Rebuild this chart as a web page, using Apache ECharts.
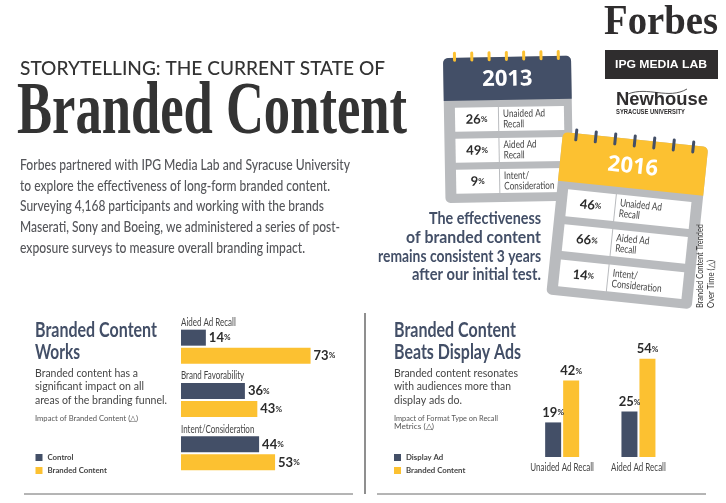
<!DOCTYPE html>
<html>
<head>
<meta charset="utf-8">
<script src="https://cdn.jsdelivr.net/npm/echarts@6/dist/echarts.min.js"></script>
<style>
html, body { margin: 0; padding: 0; background: #fff; }
#main { width: 726px; height: 503px; }
</style>
</head>
<body>
<div id="main"></div>
<script>
// bar chart data
const funnelCategories = ['Aided Ad Recall', 'Brand Favorability', 'Intent/Consideration'];
const funnelControl = [14, 36, 44];
const funnelBranded = [73, 43, 53];
const formatCategories = ['Unaided Ad Recall', 'Aided Ad Recall'];
const formatDisplay = [19, 25];
const formatBranded = [42, 54];

// calendar cards
const calendarMetrics = [['Unaided Ad', 'Recall'], ['Aided Ad', 'Recall'], ['Intent/', 'Consideration']];
const values2013 = [26, 49, 9];
const values2016 = [46, 66, 14];

const introLines = [
    'Forbes partnered with IPG Media Lab and Syracuse University',
    'to explore the effectiveness of long-form branded content.',
    'Surveying 4,168 participants and working with the brands',
    'Maserati, Sony and Boeing, we administered a series of post-',
    'exposure surveys to measure overall branding impact.',
];
const calloutLines = ['The effectiveness', 'of branded content', 'remains consistent 3 years', 'after our initial test.'];

const NAVY = '#434f67';
const YELLOW = '#fcc131';
const GREY = '#b9bbbe';
const SANS = 'Lato';
const SERIF = 'Liberation Serif';

const measureCtx = document.createElement('canvas').getContext('2d');

// text squeezed to a known width, the original faces are all condensed
function text(str, x, y, o) {
    const size = o.size;
    const weight = o.weight || 'normal';
    const family = o.family || SANS;
    measureCtx.font = weight + ' ' + size + 'px ' + family;
    const sx = o.width ? o.width / measureCtx.measureText(str).width : (o.squeeze || 1);
    return {
        type: 'text',
        x: x,
        y: y,
        scaleX: sx,
        rotation: o.rotation || 0,
        silent: true,
        style: {
            text: str,
            x: 0,
            y: 0,
            fontSize: size,
            fontFamily: family,
            fontWeight: weight,
            fill: o.color || '#333',
            align: o.align || 'left',
            verticalAlign: 'middle',
        },
    };
}

function rect(x, y, w, h, fill, r) {
    return { type: 'rect', silent: true, shape: { x: x, y: y, width: w, height: h, r: r || 0 }, style: { fill: fill } };
}

function rule(x1, y1, x2, y2, width) {
    return { type: 'line', silent: true, shape: { x1: x1, y1: y1, x2: x2, y2: y2 }, style: { stroke: '#6a6a6a', lineWidth: width || 1 } };
}

function calendar(cfg) {
    const kids = [
        rect(0, 0, cfg.w, cfg.h, GREY, 5),
        rect(0, 0, cfg.w, cfg.head, cfg.headColor, [5, 5, 0, 0]),
        text(cfg.year, cfg.w / 2, cfg.head / 2 + cfg.yearShift, { size: cfg.yearSize, weight: 'bold', family: 'Open Sans', color: '#fff', align: 'center' }),
    ];
    for (let i = 0; i < 7; i++) {
        kids.push(rect(cfg.ringX + i * cfg.ringStep, cfg.ringY, 3, cfg.ringH, cfg.ringColor, 1.5));
    }
    cfg.values.forEach((v, i) => {
        const top = cfg.rowTops[i];
        const mid = top + cfg.rowH / 2;
        kids.push(rect(cfg.rowX, top, cfg.split, cfg.rowH, '#fff'));
        kids.push(rect(cfg.rowX + cfg.split + 1, top, cfg.rowW - cfg.split - 1, cfg.rowH, '#fff'));
        kids.push({
            type: 'text',
            silent: true,
            x: cfg.rowX + cfg.split / 2,
            y: mid,
            style: {
                text: '{n|' + v + '}{p|%}',
                align: 'center',
                verticalAlign: 'middle',
                rich: {
                    n: { fontSize: 13, fontWeight: 'bold', fontFamily: SANS, fill: '#2b2b2b' },
                    p: { fontSize: 8, fontWeight: 'bold', fontFamily: SANS, fill: '#2b2b2b' },
                },
            },
        });
        calendarMetrics[i].forEach((line, j) => {
            kids.push(text(line, cfg.rowX + cfg.split + 5, mid + (j - 0.5) * 10.5, {
                size: 10.5, color: '#444', squeeze: 0.78,
            }));
        });
    });
    return { type: 'group', x: cfg.x, y: cfg.y, rotation: cfg.angle * Math.PI / 180, children: kids };
}

const graphics = [
    // masthead
    text('STORYTELLING: THE CURRENT STATE OF', 20, 69, { size: 19, weight: '500', color: '#333', width: 365 }),
    text('Branded Content', 17, 114, { size: 74, weight: 'bold', family: SERIF, color: '#333', width: 390 }),

    // logos
    text('Forbes', 604, 23, { size: 43, weight: 'bold', family: SERIF, color: '#2f2d2e', width: 114 }),
    rect(605, 50, 113, 29, '#2f2d2e'),
    text('IPG MEDIA LAB', 661, 65, { size: 11.5, weight: 'bold', family: 'Liberation Sans', color: '#fff', align: 'center', width: 92 }),
    text('Newhouse', 616, 100, { size: 19, weight: 'bold', family: 'Liberation Sans', color: '#2f2d2e', width: 92 }),
    {
        type: 'bezierCurve',
        silent: true,
        shape: { x1: 628, y1: 94, cpx1: 648, cpy1: 86, cpx2: 668, cpy2: 100, x2: 687, y2: 89 },
        style: { stroke: '#2f2d2e', lineWidth: 0.8, fill: 'none' },
    },
    text('SYRACUSE UNIVERSITY', 616, 112, { size: 7, weight: 'bold', family: 'Liberation Sans', color: '#2f2d2e', width: 69 }),

    calendar({
        x: 443, y: 58, w: 128, h: 145, head: 43, angle: 1, year: '2013', yearSize: 22, yearShift: 1,
        headColor: NAVY, ringColor: YELLOW, ringX: 10, ringStep: 17.3, ringY: -6, ringH: 10,
        values: values2013, rowX: 11, rowW: 109, split: 43, rowH: 24, rowTops: [50, 81, 112],
    }),
    calendar({
        x: 563, y: 132, w: 146, h: 163, head: 49, angle: -5.9, year: '2016', yearSize: 22, yearShift: 3,
        headColor: YELLOW, ringColor: NAVY, ringX: 12, ringStep: 19.6, ringY: -5, ringH: 13,
        values: values2016, rowX: 11, rowW: 124, split: 48, rowH: 27, rowTops: [56.5, 91.5, 127],
    }),

    text('Branded Content Trended', 700, 308, { size: 8.5, color: '#333', rotation: Math.PI / 2, width: 84 }),
    text('Over Time (△)', 711, 308, { size: 8.5, color: '#333', rotation: Math.PI / 2, width: 48 }),

    // left panel
    text('Branded Content', 35, 330, { size: 21, weight: 'bold', color: NAVY, width: 122 }),
    text('Works', 35, 352, { size: 21, weight: 'bold', color: NAVY, width: 45 }),
    text('Branded content has a', 35, 373, { size: 11.5, color: '#444', width: 103 }),
    text('significant impact on all', 35, 386.5, { size: 11.5, color: '#444', width: 109 }),
    text('areas of the branding funnel.', 35, 400, { size: 11.5, color: '#444', width: 132 }),
    text('Impact of Branded Content (△)', 35, 418, { size: 8, color: '#555', width: 103 }),

    // right panel
    text('Branded Content', 394, 330, { size: 21, weight: 'bold', color: NAVY, width: 122 }),
    text('Beats Display Ads', 394, 352, { size: 21, weight: 'bold', color: NAVY, width: 127 }),
    text('Branded content resonates', 394, 373, { size: 11.5, color: '#444', width: 124 }),
    text('with audiences more than', 394, 386.5, { size: 11.5, color: '#444', width: 117 }),
    text('display ads do.', 394, 400, { size: 11.5, color: '#444', width: 68 }),
    text('Impact of Format Type on Recall', 394, 418, { size: 8, color: '#555', width: 104 }),
    text('Metrics (△)', 394, 426.5, { size: 8, color: '#555', width: 40 }),

    rule(24, 494, 353, 494),
    rule(377, 494, 706, 494),
    rule(365, 313, 365, 494, 1.5),
];

introLines.forEach((line, i) => {
    graphics.push(text(line, 20, 165 + i * 20.8, {
        size: 15, weight: '500', color: '#55565a', width: [330, 310, 304, 320, 285][i],
    }));
});
calloutLines.forEach((line, i) => {
    graphics.push(text(line, 541, 218.5 + i * 18.8, {
        size: 17, weight: 'bold', color: NAVY, align: 'right', width: [112, 135, 163, 129][i],
    }));
});

function pctLabel(position) {
    return {
        show: true,
        position: position,
        distance: 3,
        formatter: (p) => '{n|' + p.value + '}{p|%}',
        rich: {
            n: { fontSize: 13, fontWeight: 'bold', fontFamily: SANS, color: '#2b2b2b' },
            p: { fontSize: 8, fontWeight: 'bold', fontFamily: SANS, color: '#2b2b2b' },
        },
    };
}

function barSeries(name, data, color, axisIndex, position) {
    return {
        name: name,
        type: 'bar',
        xAxisIndex: axisIndex,
        yAxisIndex: axisIndex,
        data: data,
        barWidth: 16,
        barGap: '12.5%',
        itemStyle: { color: color },
        label: pctLabel(position),
    };
}

function legend(x, names) {
    return {
        left: x,
        top: 453.5,
        padding: 0,
        orient: 'vertical',
        itemWidth: 7,
        itemHeight: 7,
        itemGap: 5,
        selectedMode: false,
        icon: 'rect',
        data: names,
        textStyle: { fontSize: 7.8, fontWeight: 'bold', fontFamily: SANS, color: '#444' },
    };
}

const option = {
    animation: false,
    backgroundColor: '#fff',
    graphic: { elements: graphics },
    legend: [legend(35.5, ['Control', 'Branded Content']), legend(394, ['Display Ad', 'Branded Content'])],
    grid: [
        { left: 181, top: 320, width: 177.5, height: 160 },
        { left: 524, top: 347.8, width: 152.6, height: 109.2 },
    ],
    xAxis: [
        { gridIndex: 0, type: 'value', min: 0, max: 100, show: false },
        {
            gridIndex: 1,
            type: 'category',
            data: formatCategories,
            axisLine: { show: false },
            axisTick: { show: false },
            axisLabel: { show: false },
        },
    ],
    yAxis: [
        {
            gridIndex: 0,
            type: 'category',
            inverse: true,
            data: funnelCategories,
            axisLine: { show: false },
            axisTick: { show: false },
            axisLabel: { show: false },
        },
        { gridIndex: 1, type: 'value', min: 0, max: 60, show: false },
    ],
    series: [
        barSeries('Control', funnelControl, NAVY, 0, 'right'),
        barSeries('Branded Content', funnelBranded, YELLOW, 0, 'right'),
        barSeries('Display Ad', formatDisplay, NAVY, 1, 'top'),
        barSeries('Branded Content', formatBranded, YELLOW, 1, 'top'),
    ],
};

const myChart = echarts.init(document.getElementById('main'));
myChart.setOption(option);

// axis labels need the squeeze too, which axisLabel cannot do, so place them from the axes
funnelCategories.forEach((name) => {
    const y = myChart.convertToPixel({ yAxisIndex: 0 }, name);
    graphics.push(text(name, 181, y - 24, { size: 10.5, color: '#444', squeeze: 0.76 }));
});
formatCategories.forEach((name) => {
    const x = myChart.convertToPixel({ xAxisIndex: 1 }, name);
    graphics.push(text(name, x, 468, { size: 10.5, color: '#444', align: 'center', squeeze: 0.76 }));
});
myChart.setOption({ graphic: { elements: graphics } });
window.onresize = myChart.resize;
</script>
</body>
</html>
